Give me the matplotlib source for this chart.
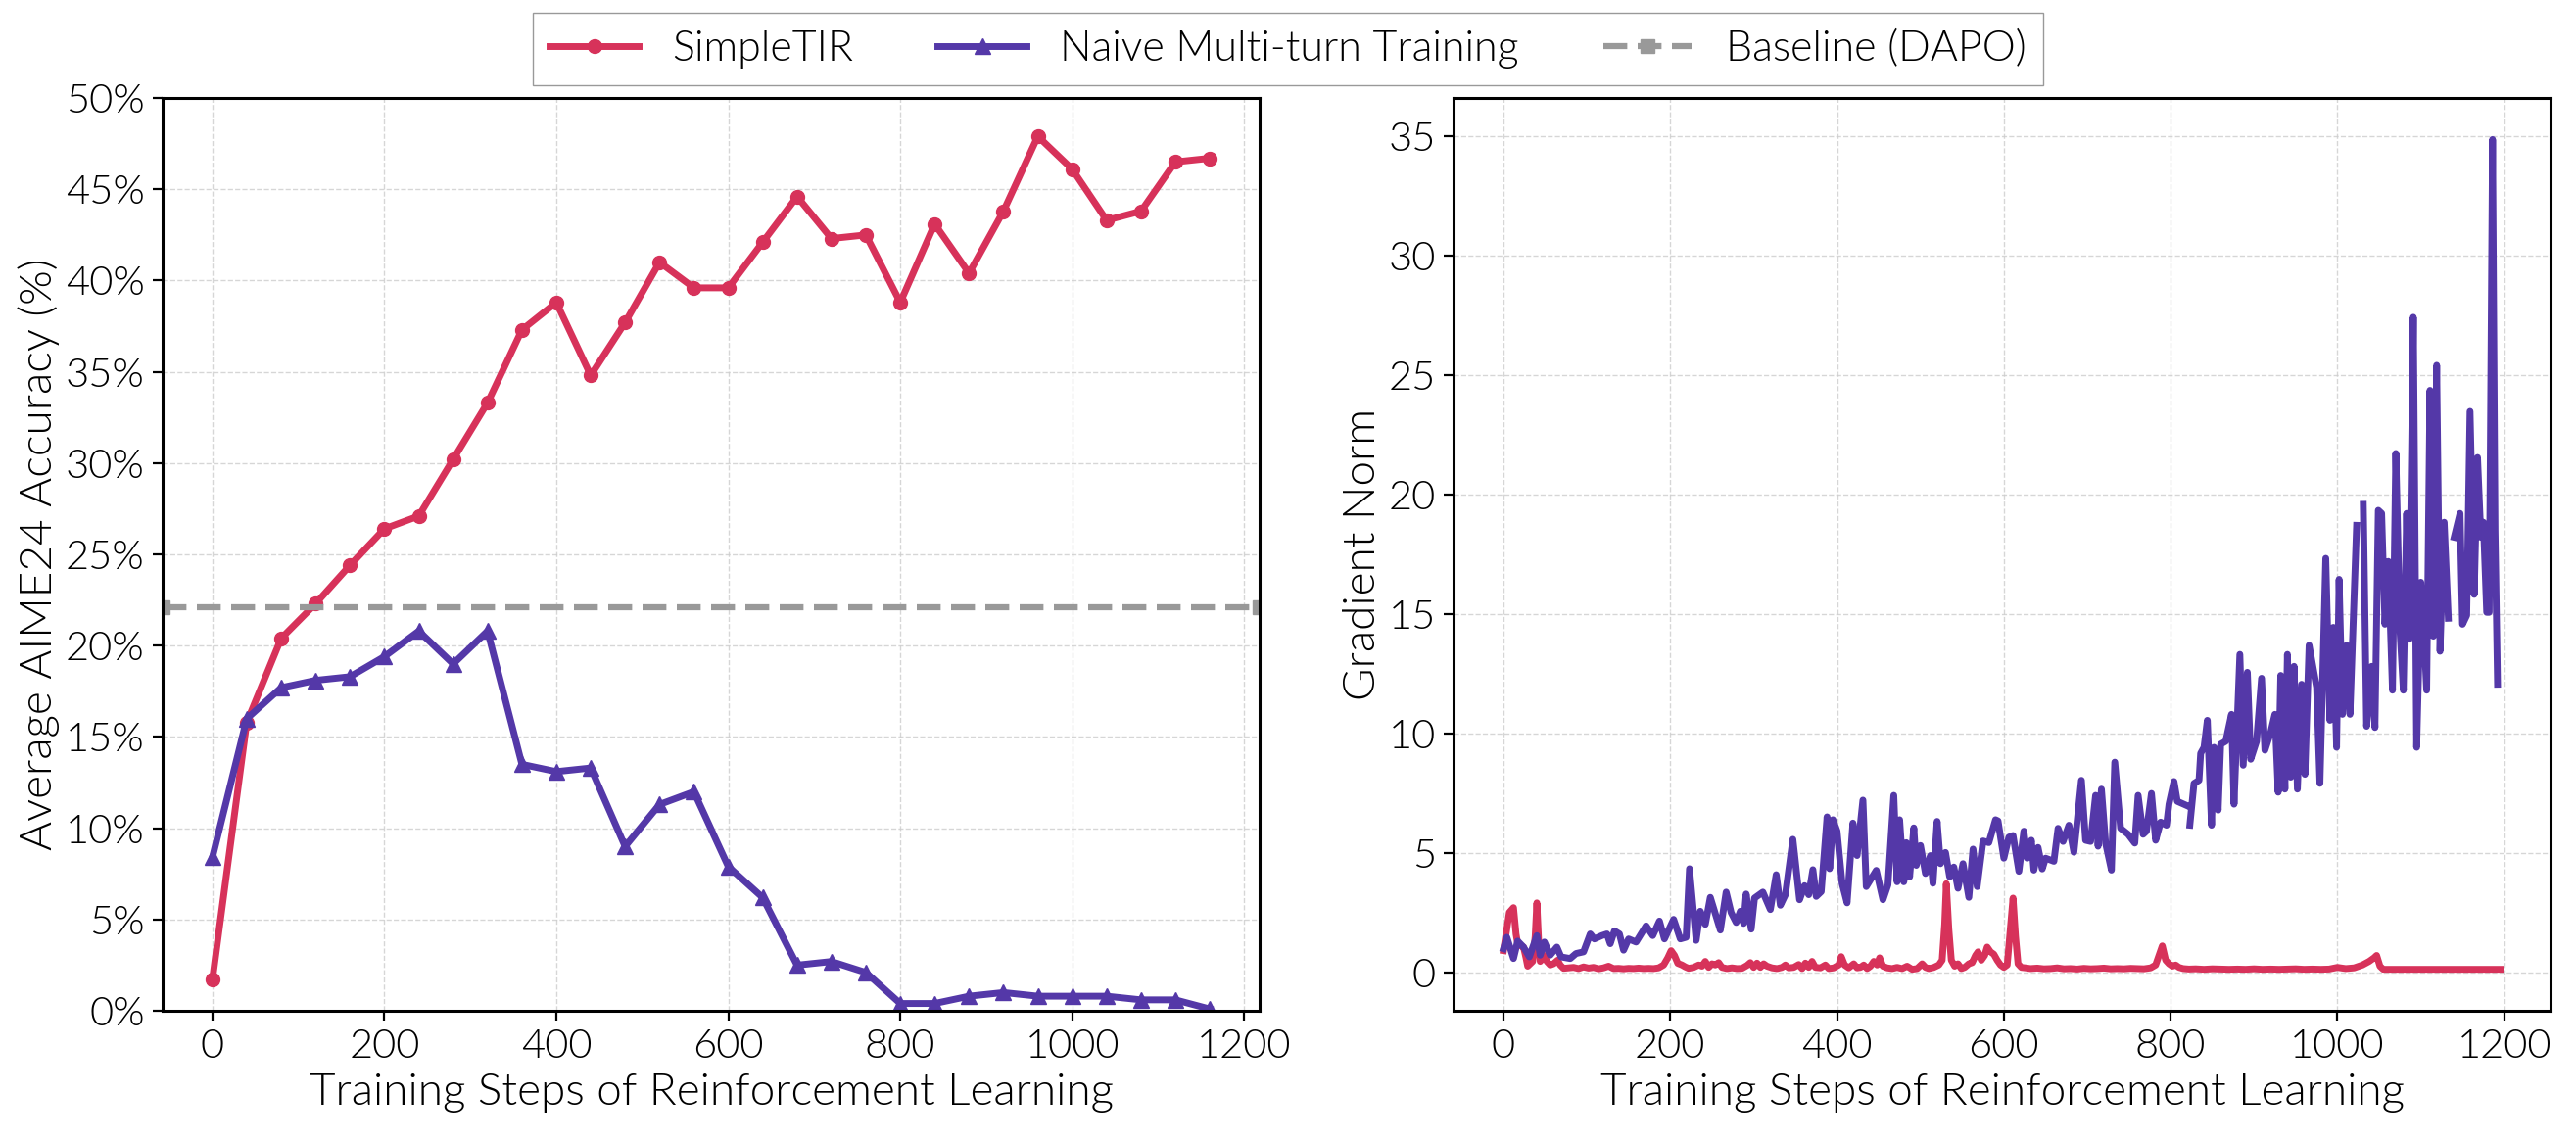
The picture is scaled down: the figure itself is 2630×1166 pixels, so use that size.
import numpy as np
import matplotlib
matplotlib.use("Agg")
import matplotlib.pyplot as plt
import matplotlib.ticker as ticker

matplotlib.rcParams["font.family"] = ["Lato", "DejaVu Sans"]
matplotlib.rcParams["font.weight"] = 300
matplotlib.rcParams["axes.labelweight"] = 300

red = "#d7325a"
purple = "#5438a8"
gray = "#999999"

# --- left panel: AIME24 accuracy (%) every 40 RL steps ---
acc_steps = [0, 40, 80, 120, 160, 200, 240, 280, 320, 360, 400, 440, 480, 520, 560,
             600, 640, 680, 720, 760, 800, 840, 880, 920, 960, 1000, 1040, 1080, 1120, 1160]
acc_simpletir = [1.7, 15.8, 20.4, 22.3, 24.4, 26.4, 27.1, 30.2, 33.3, 37.3, 38.8, 34.8, 37.7, 41.0, 39.6,
                 39.6, 42.1, 44.6, 42.3, 42.5, 38.8, 43.1, 40.4, 43.8, 47.9, 46.1, 43.3, 43.8, 46.5, 46.7]
acc_naive = [8.4, 16.0, 17.7, 18.1, 18.3, 19.4, 20.8, 19.0, 20.8, 13.5, 13.1, 13.3, 9.0, 11.3, 12.0,
             7.9, 6.2, 2.5, 2.7, 2.1, 0.4, 0.4, 0.8, 1.0, 0.8, 0.8, 0.8, 0.6, 0.6, 0.1]
acc_baseline = 22.1

# --- right panel: gradient norm ---
gn_naive_steps = [0, 4, 12, 17, 24, 31, 40, 44, 49, 56, 64, 69, 80, 87, 96, 104, 109, 118, 124, 128,
                  133, 139, 144, 150, 159, 171, 179, 187, 193, 204, 212, 219, 223, 231, 236, 242, 248, 260,
                  267, 273, 279, 284, 288, 291, 297, 301, 311, 320, 327, 332, 338, 347, 355, 361, 366, 371,
                  375, 381, 388, 391, 395, 400, 406, 412, 419, 424, 431, 435, 441, 447, 455, 461, 468, 472,
                  475, 480, 483, 487, 492, 495, 500, 506, 512, 515, 520, 524, 530, 535, 540, 545, 551, 558,
                  563, 568, 575, 582, 590, 593, 600, 606, 611, 618, 624, 628, 633, 636, 641, 646, 650, 660,
                  665, 671, 678, 684, 693, 698, 704, 710, 713, 717, 722, 729, 733, 740, 749, 757, 761, 767,
                  771, 777, 782, 788, 795, 798, 804, 808, 819, 821, 823, 828, 834, 836, 840, 844, 849, 852,
                  857, 860, 866, 873, 876, 883, 887, 892, 896, 903, 909, 913, 920, 925, 929, 932, 937, 940,
                  944, 948, 952, 957, 961, 966, 975, 979, 986, 991, 995, 999, 1002, 1006, 1011, 1015, 1023,
                  1027, 1031, 1035, 1041, 1045, 1049, 1053, 1057, 1061, 1066, 1070, 1075, 1079, 1083, 1086,
                  1091, 1095, 1100, 1104, 1107, 1111, 1115, 1119, 1123, 1128, 1133, 1137, 1140, 1147, 1150,
                  1155, 1159, 1164, 1168, 1172, 1175, 1179, 1182, 1186, 1189, 1192]
gn_naive = [0.98, 1.46, 0.57, 1.3, 1.05, 0.64, 1.53, 0.71, 1.26, 0.71, 1.05, 0.64, 0.57, 0.78, 0.85, 1.6,
            1.39, 1.53, 1.6, 1.19, 1.73, 1.6, 0.92, 1.39, 1.26, 1.94, 1.53, 2.14, 1.39, 2.21, 1.39, 1.46,
            4.33, 1.33, 2.55, 2.0, 3.13, 1.76, 3.35, 2.49, 2.08, 2.55, 2.04, 3.27, 1.8, 3.1, 3.35, 2.62,
            4.08, 2.8, 3.24, 5.56, 3.03, 3.62, 3.24, 4.29, 3.17, 3.37, 6.5, 4.33, 6.38, 5.9, 3.72, 2.9,
            6.24, 4.88, 7.2, 3.58, 3.92, 4.26, 3.03, 3.65, 7.4, 3.78, 6.38, 3.78, 5.42, 3.99, 6.04, 4.47,
            5.3, 4.13, 4.88, 3.72, 6.31, 4.54, 5.01, 3.99, 4.4, 3.51, 4.54, 3.13, 5.15, 3.58, 5.49, 5.42,
            6.38, 6.33, 4.77, 5.65, 5.72, 4.22, 5.9, 4.77, 5.52, 4.27, 5.22, 4.32, 4.77, 4.64, 6.02, 5.47,
            6.15, 5.02, 8.03, 5.52, 5.47, 7.4, 5.27, 7.66, 5.4, 4.27, 8.79, 6.02, 5.77, 5.4, 7.4, 5.77,
            5.9, 7.48, 5.52, 6.28, 6.15, 7.03, 7.98, 7.15, 6.98, np.nan, 6.15, 7.9, 8.03, 9.16, 9.41,
            10.54, 6.15, 9.41, 6.78, 9.54, 9.66, 10.79, 7.03, 13.3, 8.66, 12.55, 8.91, 9.66, 12.3, 9.29,
            10.04, 10.79, 7.53, 12.42, 7.66, 13.3, 8.16, 12.8, 7.66, 12.05, 8.28, 13.68, 11.92, 7.9,
            17.32, 10.54, 14.43, 9.41, 16.44, 10.79, 13.68, 10.79, 18.7, np.nan, 19.58, 10.29, 12.8,
            10.24, 19.33, 19.2, 14.56, 17.19, 11.8, 21.71, 14.3, 11.8, 19.2, 13.93, 27.41, 9.41, 16.32,
            13.93, 11.8, 24.35, 14.06, 25.4, 13.43, 18.83, 14.81, np.nan, 18.2, 19.2, 14.56, 14.93,
            23.47, 15.81, 21.54, 18.2, 18.83, 15.06, 15.06, 34.85, 18.5, 12.05]

gn_simpletir_steps = [0, 4, 7, 12, 15, 17, 21, 24, 27, 29, 32, 35, 38, 40, 42, 44, 47, 49, 52, 56, 60, 65,
                      68, 72, 78, 84, 90, 96, 102, 108, 114, 120, 126, 132, 138, 144, 150, 156, 162, 168,
                      174, 180, 186, 192, 197, 201, 205, 209, 214, 218, 222, 228, 234, 238, 242, 246, 250,
                      254, 258, 262, 268, 274, 280, 286, 292, 296, 300, 304, 308, 312, 316, 322, 328, 334,
                      338, 342, 348, 354, 358, 362, 366, 370, 374, 380, 386, 390, 396, 402, 405, 409, 414,
                      420, 424, 428, 432, 436, 440, 444, 448, 451, 455, 460, 466, 472, 478, 484, 490, 496,
                      502, 506, 510, 516, 522, 526, 529, 531, 534, 537, 541, 545, 549, 553, 558, 562, 566,
                      569, 573, 577, 580, 584, 588, 592, 596, 600, 604, 607, 611, 614, 617, 621, 626, 632,
                      640, 648, 656, 664, 672, 680, 688, 696, 704, 712, 720, 728, 736, 744, 752, 760, 768,
                      776, 782, 786, 790, 794, 798, 802, 806, 810, 815, 822, 830, 840, 850, 860, 870, 880,
                      890, 900, 910, 920, 930, 940, 950, 960, 970, 980, 990, 1000, 1010, 1020, 1030, 1038,
                      1044, 1047, 1051, 1055, 1065, 1080, 1095, 1110, 1125, 1140, 1155, 1170, 1185, 1196]
gn_simpletir = [0.9, 1.8, 2.5, 2.7, 1.6, 1.2, 1.1, 1.05, 0.6, 0.25, 0.35, 0.45, 1.5, 2.9, 1.4, 0.45, 0.6,
                0.7, 0.45, 0.3, 0.35, 0.5, 0.3, 0.16, 0.18, 0.2, 0.15, 0.22, 0.17, 0.2, 0.14, 0.18, 0.25,
                0.15, 0.16, 0.14, 0.16, 0.15, 0.17, 0.15, 0.16, 0.15, 0.18, 0.3, 0.6, 0.9, 0.7, 0.37, 0.3,
                0.22, 0.16, 0.2, 0.3, 0.25, 0.45, 0.2, 0.35, 0.3, 0.4, 0.2, 0.15, 0.18, 0.15, 0.16, 0.28,
                0.4, 0.2, 0.38, 0.2, 0.35, 0.25, 0.18, 0.15, 0.2, 0.3, 0.18, 0.2, 0.32, 0.15, 0.38, 0.2,
                0.45, 0.2, 0.18, 0.3, 0.15, 0.18, 0.3, 0.65, 0.3, 0.18, 0.35, 0.18, 0.2, 0.3, 0.15, 0.25,
                0.45, 0.3, 0.6, 0.25, 0.18, 0.15, 0.2, 0.15, 0.25, 0.12, 0.15, 0.35, 0.2, 0.15, 0.2, 0.3,
                0.5, 2.0, 3.7, 1.8, 0.5, 0.25, 0.35, 0.15, 0.2, 0.35, 0.4, 0.7, 0.85, 0.5, 0.7, 1.05, 0.85,
                0.75, 0.5, 0.3, 0.2, 0.3, 1.5, 3.1, 1.5, 0.35, 0.2, 0.18, 0.15, 0.17, 0.14, 0.15, 0.18,
                0.14, 0.15, 0.13, 0.16, 0.14, 0.15, 0.17, 0.14, 0.15, 0.14, 0.16, 0.15, 0.14, 0.18, 0.3,
                0.7, 1.1, 0.5, 0.35, 0.25, 0.3, 0.2, 0.15, 0.13, 0.14, 0.12, 0.14, 0.13, 0.12, 0.13, 0.12,
                0.14, 0.12, 0.13, 0.12, 0.13, 0.14, 0.12, 0.13, 0.12, 0.13, 0.2, 0.15, 0.18, 0.3, 0.45,
                0.6, 0.7, 0.25, 0.12, 0.12, 0.12, 0.12, 0.12, 0.12, 0.12, 0.12, 0.12, 0.12, 0.12]

tick_fs = 30
label_fs = 33

fig = plt.figure(figsize=(26.30, 11.66), dpi=100)
ax1 = fig.add_axes([0.0631, 0.1149, 0.4259, 0.7993])
ax2 = fig.add_axes([0.5643, 0.1149, 0.4259, 0.7993])

l1, = ax1.plot(acc_steps, acc_simpletir, color=red, lw=5, marker="o", ms=10, label="SimpleTIR")
l2, = ax1.plot(acc_steps, acc_naive, color=purple, lw=5, marker="^", ms=11,
               label="Naive Multi-turn Training")
l3 = ax1.axhline(acc_baseline, color=gray, lw=4.5, ls=(0, (3.9, 1.7)), marker="s", ms=10,
                 label="Baseline (DAPO)")
ax1.set_ylim(0, 50)
ax1.set_yticks(np.arange(0, 51, 5))
ax1.yaxis.set_major_formatter(ticker.FuncFormatter(lambda v, p: f"{v:.0f}%"))
ax1.set_ylabel("Average AIME24 Accuracy (%)", fontsize=label_fs)

ax2.plot(gn_simpletir_steps, gn_simpletir, color=red, lw=5)
ax2.plot(gn_naive_steps, gn_naive, color=purple, lw=5)
ax2.set_yticks(np.arange(0, 36, 5))
ax2.set_ylabel("Gradient Norm", fontsize=label_fs)

for ax in (ax1, ax2):
    ax.set_xticks(np.arange(0, 1201, 200))
    ax.set_xlabel("Training Steps of Reinforcement Learning", fontsize=label_fs, labelpad=6)
    ax.grid(True, ls="--", color="#cccccc", lw=1, alpha=0.8)
    ax.set_axisbelow(True)
    ax.tick_params(axis="both", labelsize=tick_fs, length=7, width=1.6, pad=6)
    for sp in ax.spines.values():
        sp.set_linewidth(2.2)

fig.legend(handles=[l1, l2, l3], loc="center", bbox_to_anchor=(0.5, 0.957), ncol=3,
           fontsize=31, frameon=True, fancybox=False, edgecolor="#999999", framealpha=1,
           handlelength=2.1, columnspacing=2.0)

fig.savefig("out.png", dpi=100)
